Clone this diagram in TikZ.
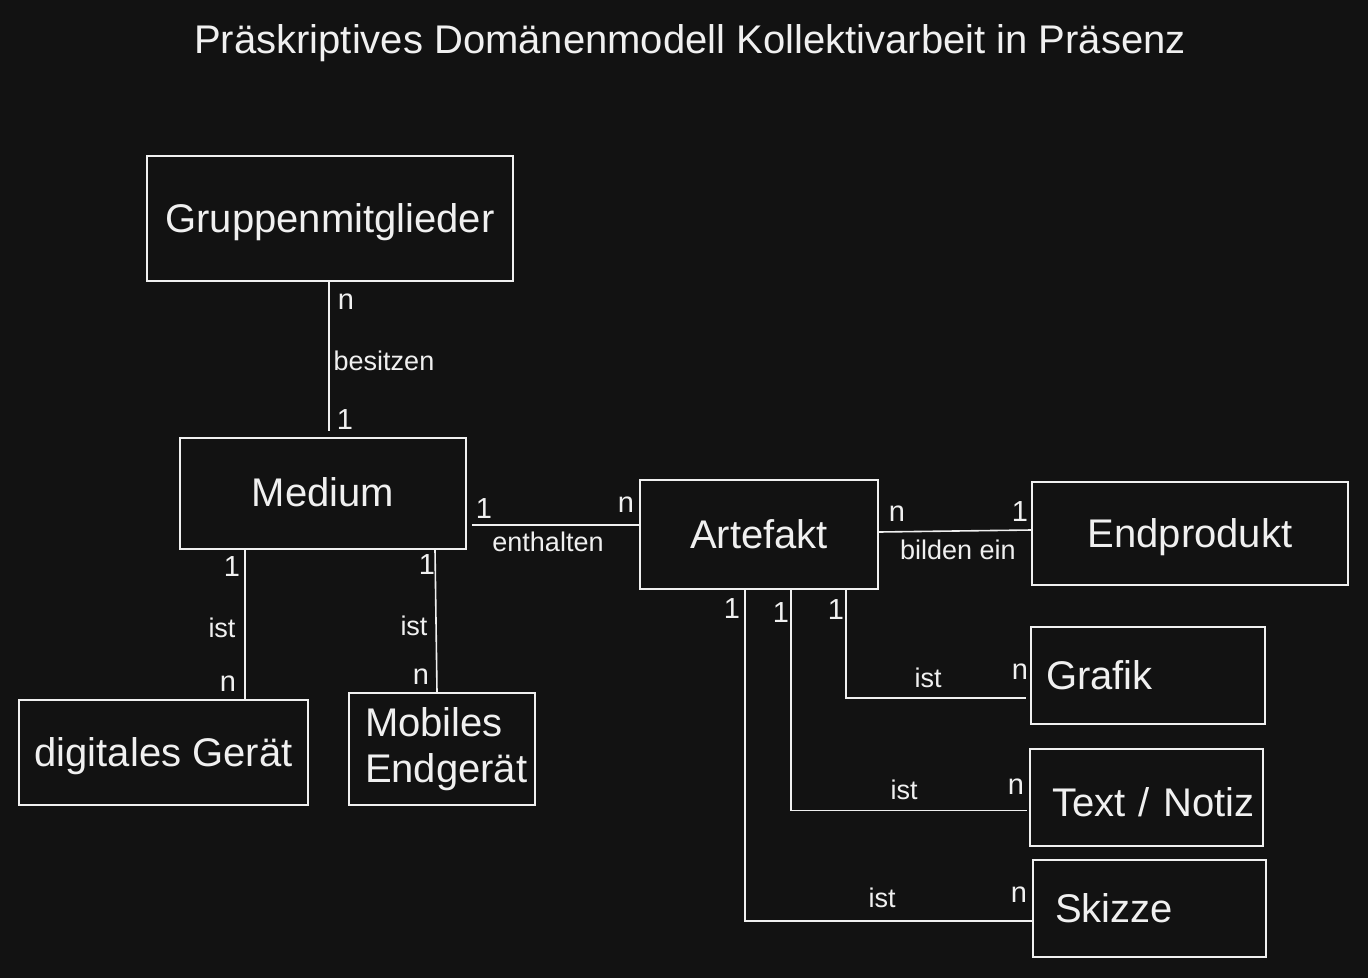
\documentclass[tikz,border=0pt]{standalone}
\usepackage{fontspec}
\setmainfont{Liberation Sans}
\definecolor{bgdark}{HTML}{121212}
\definecolor{fgline}{HTML}{F0F0F0}
\tikzset{
  entity/.style={draw=fgline, line width=1.6pt, text=fgline, font=\fontsize{40}{46}\selectfont, inner sep=0pt},
  oneline/.style={text height=31pt, text depth=3pt},
  conn/.style={draw=fgline, line width=1.6pt},
  rel/.style={text=fgline, font=\fontsize{27}{32}\selectfont, inner sep=0pt},
  mult/.style={text=fgline, font=\fontsize{29}{34}\selectfont, inner sep=0pt}
}
\begin{document}
\begin{tikzpicture}[x=1pt,y=-1pt]
    % Background and frame
    \fill[bgdark] (0,0) rectangle (1368,978);
    \useasboundingbox (0,0) rectangle (1368,978);
    \node[text=fgline, font=\fontsize{40}{46}\selectfont] (title) at (690,43) {Präskriptives Domänenmodell Kollektivarbeit in Präsenz};

    % Entities
    \node[entity, oneline, minimum width=366, minimum height=125] (grp) at (330,218.5) {Gruppenmitglieder};
    \node[entity, minimum width=286, minimum height=111] (med) at (323,493.5) {\raisebox{3pt}{Medium}};
    \node[entity, oneline, minimum width=238, minimum height=109] (art) at (759,534.5) {Artefakt};
    \node[entity, oneline, minimum width=316, minimum height=103] (endp) at (1190,533.5) {Endprodukt};
    \node[entity, oneline, minimum width=289, minimum height=105] (dig) at (163.5,752.5) {digitales Gerät};
    \node[entity, minimum height=112, text width=154, inner xsep=16, align=left] (mob) at (442,749) {Mobiles\\Endgerät};
    \node[entity, oneline, minimum height=97, text width=204, inner xsep=15, align=left] (graf) at (1148,675.5) {Grafik};
    \node[entity, minimum height=97, text width=189, inner xsep=22, align=left, text height=38pt, text depth=0pt] (txt) at (1146.5,797.5) {\mbox{Text / Notiz}};
    \node[entity, oneline, minimum height=97, text width=189, inner xsep=22, align=left] (skz) at (1149.5,908.5) {Skizze};

    % Connectors
    \draw[conn, shorten >=6pt] ([xshift=-1]grp.south) -- ([xshift=-1]grp.south |- med.north); % besitzen
    \draw[conn, shorten <=5pt] ([yshift=9.5]med.east |- art.west) -- ([yshift=9.5]art.west); % enthalten
    \draw[conn] ([yshift=2.5]art.east) -- ([yshift=3.5]endp.west); % bilden ein
    \draw[conn] ([xshift=-78]med.south) -- ([xshift=-78]med.south |- dig.north);
    \draw[conn] ([xshift=112]med.south) -- ([xshift=-5]mob.north);
    \draw[conn] ([xshift=87]art.south) |- ([xshift=-4,yshift=-22.5]graf.west);
    \draw[conn] ([xshift=32]art.south) |- ([xshift=-2,yshift=-13]txt.west);
    \draw[conn] ([xshift=-14]art.south) |- ([yshift=-12.5]skz.west);

    % Relation labels
    \foreach \x/\y/\t [count=\i] in {384/361/besitzen, 548/542/enthalten, 958/550/bilden ein,
        222/628/ist, 414/626/ist, 928/678/ist, 904/790/ist, 882/898/ist}
      \node[rel] (rel\i) at (\x,\y) {\t};

    % Multiplicities
    \foreach \x/\y/\t [count=\i] in {346/302/n, 345/420/1, 484/509/1, 626/505/n, 897/514/n, 1020/512/1,
        232/567/1, 228/684/n, 427/565/1, 421/677/n,
        836/610/1, 1020/672/n, 781/613/1, 1016/787/n, 732/609/1, 1019/895/n}
      \node[mult] (mul\i) at (\x,\y) {\t};
\end{tikzpicture}
\end{document}
